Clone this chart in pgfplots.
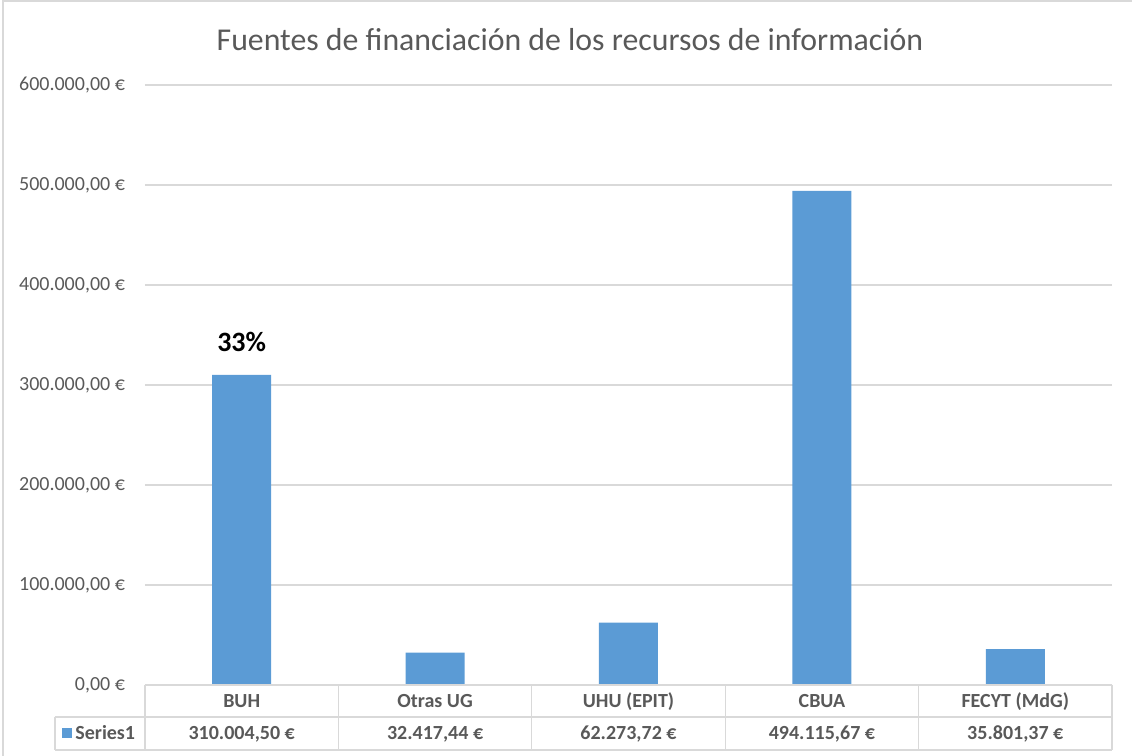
\documentclass[border=0pt]{standalone}
\usepackage{fontspec}
\setmainfont{Carlito}
\usepackage{pgfplots}
\pgfplotsset{compat=1.18}
\definecolor{barblue}{HTML}{5B9BD5}
\definecolor{txtgray}{HTML}{595959}
\definecolor{gridgray}{HTML}{D9D9D9}

\begin{document}
\begin{tikzpicture}
% page frame (1px = 0.5pt)
\path[use as bounding box] (-72.5pt,-35.5pt) rectangle (493.5pt,342.5pt);
\draw[gridgray, line width=1pt] (-71pt,-36pt) -- (-71pt,342pt) -- (494pt,342pt);

\begin{axis}[
  at={(0pt,0pt)}, anchor=south west,
  scale only axis, width=483.5pt, height=300pt,
  xmin=-0.5, xmax=4.5, ymin=0, ymax=600000,
  enlargelimits=false,
  scaled y ticks=false,
  ybar, bar width=29.5pt,
  axis line style={draw=none},
  major tick length=0pt,
  ymajorgrids, grid style={gridgray, line width=0.6pt},
  ytick={0,100000,200000,300000,400000,500000,600000},
  yticklabels={{0,00 €},{100.000,00 €},{200.000,00 €},{300.000,00 €},{400.000,00 €},{500.000,00 €},{600.000,00 €}},
  yticklabel style={font=\fontsize{10}{12}\selectfont, text=txtgray, anchor=east, xshift=-6.5pt},
  xtick={0,1,2,3,4},
  xticklabels={BUH,Otras UG,UHU (EPIT),CBUA,FECYT (MdG)},
  xticklabel style={font=\bfseries\fontsize{10}{12}\selectfont, text=txtgray, anchor=base, yshift=-11.25pt},
]
\addplot[fill=barblue, draw=none] coordinates {
  (0,310004.50) (1,32417.44) (2,62273.72) (3,494115.67) (4,35801.37)};
\node[font=\bfseries\fontsize{14}{16}\selectfont, text=black] at ([yshift=16.5pt]axis cs:0,310004.50) {33\%};
\end{axis}

% data table
\begin{scope}[gridgray, line width=0.6pt]
  \draw (-45pt,-16pt) -- (483.5pt,-16pt);
  \draw (-45pt,-32.5pt) -- (483.5pt,-32.5pt);
  \draw (483.5pt,0pt) -- (0pt,0pt);
  \draw (-45pt,-16pt) -- (-45pt,-32.5pt);
  \foreach \x in {0,96.7,193.4,290.1,386.8,483.5}
    \draw (\x pt,0pt) -- (\x pt,-32.5pt);
\end{scope}
\fill[barblue] (-41.5pt,-21.5pt) rectangle (-36.5pt,-26.5pt);
\node[anchor=base west, inner sep=0pt, font=\bfseries\fontsize{10}{12}\selectfont, text=txtgray] at (-35pt,-27.3pt) {Series1};
\foreach \x/\v in {48.35/{310.004,50 €},145.05/{32.417,44 €},241.75/{62.273,72 €},338.45/{494.115,67 €},435.15/{35.801,37 €}}
  \node[anchor=base, inner sep=0pt, font=\bfseries\fontsize{10}{12}\selectfont, text=txtgray] at (\x pt,-27.3pt) {\v};

% title
\node[font=\fontsize{15.9}{18}\selectfont, text=txtgray] at (212.5pt,322.5pt) {Fuentes de financiación de los recursos de información};
\end{tikzpicture}
\end{document}
